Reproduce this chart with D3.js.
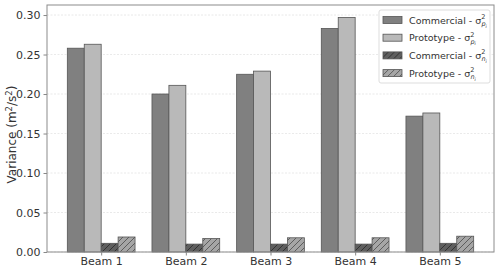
<!DOCTYPE html>
<html>
<head>
<meta charset="utf-8">
<script src="https://cdn.jsdelivr.net/npm/d3@7"></script>
<style>
  body { margin: 0; background: #fff; }
  svg { display: block; font-family: "DejaVu Sans", sans-serif; }
</style>
</head>
<body>
<svg width="500" height="270"></svg>
<script>
const beams = ['Beam 1', 'Beam 2', 'Beam 3', 'Beam 4', 'Beam 5'];
const commercialP = [0.258, 0.200, 0.225, 0.283, 0.172];
const prototypeP = [0.263, 0.211, 0.229, 0.297, 0.176];
const commercialN = [0.011, 0.010, 0.010, 0.010, 0.011];
const prototypeN = [0.019, 0.017, 0.018, 0.018, 0.020];
const yTicks = [0, 0.05, 0.10, 0.15, 0.20, 0.25, 0.30];

const series = [
    {name: 'Commercial', sub: 'p', values: commercialP, fill: '#808080', hatch: null},
    {name: 'Prototype', sub: 'p', values: prototypeP, fill: '#b9b9b9', hatch: null},
    {name: 'Commercial', sub: 'n', values: commercialN, fill: '#5f5f5f', hatch: '#2e2e2e'},
    {name: 'Prototype', sub: 'n', values: prototypeN, fill: '#a6a6a6', hatch: '#555'}
];

const margin = {t: 5, r: 6, b: 18, l: 47};
const size = {w: 500, h: 270};
const svg = d3.select('svg');

const barW = 0.2;
const x = d3.scaleLinear()
    .domain([-0.64, beams.length - 1 + 0.64])
    .range([margin.l, size.w - margin.r]);
const y = d3.scaleLinear()
    .domain([0, 0.3127])
    .range([size.h - margin.b, margin.t]);

// hatch patterns
const defs = svg.append('defs');
series.forEach((s, i) => {
    if (!s.hatch) return;
    const p = defs.append('pattern')
        .attr('id', 'hatch' + i)
        .attr('patternUnits', 'userSpaceOnUse')
        .attr('width', 6).attr('height', 6);
    p.append('rect').attr('width', 6).attr('height', 6).attr('fill', s.fill);
    p.append('path')
        .attr('d', 'M-1,1 L1,-1 M0,6 L6,0 M5,7 L7,5')
        .attr('stroke', s.hatch)
        .attr('stroke-width', 0.9);
});

// grid
svg.append('g')
    .selectAll('line')
    .data(yTicks)
    .join('line')
    .attr('x1', margin.l).attr('x2', size.w - margin.r)
    .attr('y1', d => y(d)).attr('y2', d => y(d))
    .attr('stroke', '#e3e3e3')
    .attr('stroke-dasharray', '2,1.5')
    .attr('stroke-width', 0.8);

// bars
series.forEach((s, i) => {
    const off = (i - 1.5) * barW;
    svg.append('g')
        .selectAll('rect')
        .data(s.values)
        .join('rect')
        .attr('x', (d, j) => x(j + off - barW / 2))
        .attr('width', x(barW) - x(0))
        .attr('y', d => y(d))
        .attr('height', d => y(0) - y(d))
        .attr('fill', s.hatch ? `url(#hatch${i})` : s.fill)
        .attr('stroke', '#555')
        .attr('stroke-width', 0.8);
});

// axes
const yAxis = svg.append('g')
    .attr('transform', `translate(${margin.l},0)`)
    .call(d3.axisLeft(y).tickValues(yTicks).tickFormat(d3.format('.2f')).tickSize(3.5).tickPadding(3));
const xAxis = svg.append('g')
    .attr('transform', `translate(0,${size.h - margin.b})`)
    .call(d3.axisBottom(x).tickValues(d3.range(beams.length)).tickFormat(i => beams[i]).tickSize(3.5).tickPadding(2));
[yAxis, xAxis].forEach(a => {
    a.select('.domain').remove();
    a.selectAll('line').attr('stroke', '#888');
    a.selectAll('text').attr('fill', '#333').attr('font-size', 11)
        .attr('font-family', '"DejaVu Sans", sans-serif');
});

// frame
svg.append('rect')
    .attr('x', margin.l).attr('y', margin.t)
    .attr('width', size.w - margin.r - margin.l)
    .attr('height', size.h - margin.b - margin.t)
    .attr('fill', 'none')
    .attr('stroke', '#8c8c8c')
    .attr('stroke-width', 1);

// y label
const yl = svg.append('text')
    .attr('transform', `translate(16,${(margin.t + size.h - margin.b) / 2 + 6}) rotate(-90)`)
    .attr('text-anchor', 'middle')
    .attr('fill', '#333')
    .attr('font-size', 12);
yl.append('tspan').text('Variance (m');
yl.append('tspan').attr('font-size', 8.5).attr('dy', -4.5).text('2');
yl.append('tspan').attr('dy', 4.5).text('/s');
yl.append('tspan').attr('font-size', 8.5).attr('dy', -4.5).text('2');
yl.append('tspan').attr('dy', 4.5).text(')');

// legend
const lg = svg.append('g').attr('transform', 'translate(379,10)');
lg.append('rect')
    .attr('width', 111).attr('height', 73)
    .attr('rx', 2)
    .attr('fill', '#fff').attr('fill-opacity', 0.85)
    .attr('stroke', '#ddd');
series.forEach((s, i) => {
    const row = lg.append('g').attr('transform', `translate(0,${10 + i * 17.7})`);
    row.append('rect')
        .attr('x', 4).attr('y', -3.5)
        .attr('width', 19).attr('height', 7)
        .attr('fill', s.hatch ? `url(#hatch${i})` : s.fill)
        .attr('stroke', '#555').attr('stroke-width', 0.8);
    const t = row.append('text')
        .attr('x', 30).attr('y', 3.5)
        .attr('fill', '#333')
        .attr('font-size', 9.5);
    t.append('tspan').text(s.name + ' - σ');
    t.append('tspan').attr('font-size', 6.5).attr('dy', -4.5).text('2');
    t.append('tspan').attr('font-size', 6.5).attr('dx', -4).attr('dy', 7).attr('font-style', 'italic').text(s.sub);
    t.append('tspan').attr('font-size', 4.5).attr('dy', 1.5).attr('font-style', 'italic').text('i');
});
</script>
</body>
</html>
